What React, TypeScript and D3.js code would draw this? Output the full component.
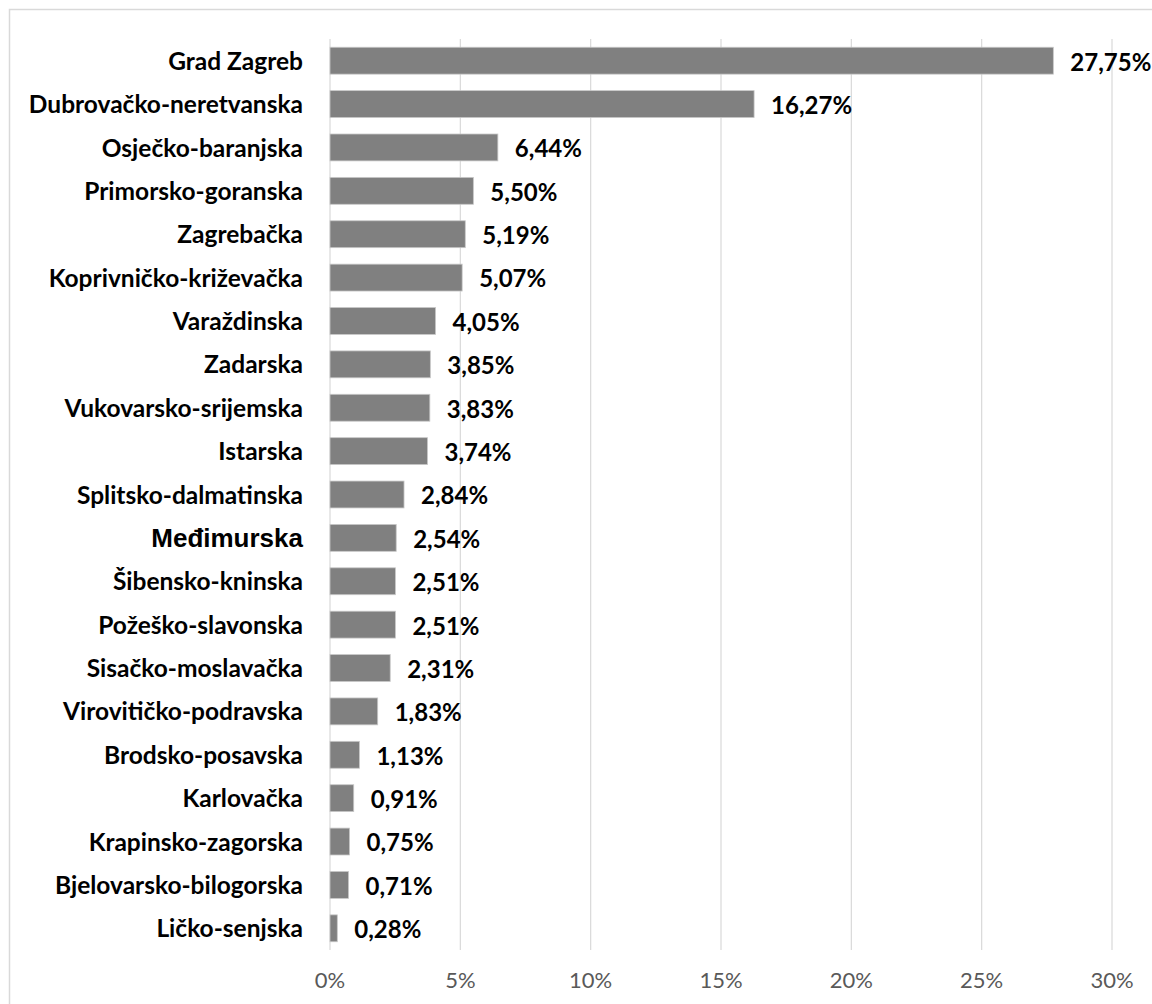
import React from "react";
import * as d3 from "d3";

const categories = [
  "Grad Zagreb",
  "Dubrovačko-neretvanska",
  "Osječko-baranjska",
  "Primorsko-goranska",
  "Zagrebačka",
  "Koprivničko-križevačka",
  "Varaždinska",
  "Zadarska",
  "Vukovarsko-srijemska",
  "Istarska",
  "Splitsko-dalmatinska",
  "Međimurska",
  "Šibensko-kninska",
  "Požeško-slavonska",
  "Sisačko-moslavačka",
  "Virovitičko-podravska",
  "Brodsko-posavska",
  "Karlovačka",
  "Krapinsko-zagorska",
  "Bjelovarsko-bilogorska",
  "Ličko-senjska",
];

const values = [
  27.75, 16.27, 6.44, 5.5, 5.19, 5.07, 4.05, 3.85, 3.83, 3.74, 2.84, 2.54, 2.51,
  2.51, 2.31, 1.83, 1.13, 0.91, 0.75, 0.71, 0.28,
];

const ticks = [0, 5, 10, 15, 20, 25, 30];

const W = 1152;
const H = 1004;
const left = 330;
const right = 1112;
const top = 39;
const bottom = 950;

const fmt = (v: number) => v.toFixed(2).replace(".", ",") + "%";
const labelFont = "Lato, 'Open Sans', sans-serif";

export default function App() {
  const x = d3.scaleLinear().domain([0, 30]).range([left, right]);
  const y = d3
    .scaleBand<string>()
    .domain(categories)
    .range([top, bottom])
    .paddingInner(0.38)
    .paddingOuter(0.19);

  return (
    <svg
      width={W}
      height={H}
      style={{ position: "absolute", left: 0, top: 0, display: "block" }}
    >
      <rect x={0} y={0} width={W} height={H} fill="#ffffff" />
      <rect
        x={9.5}
        y={9.5}
        width={W + 20}
        height={H + 20}
        fill="none"
        stroke="#d9d9d9"
        strokeWidth={1.5}
      />
      {ticks.map((t) => (
        <line
          key={"g" + t}
          x1={x(t)}
          x2={x(t)}
          y1={top}
          y2={bottom}
          stroke="#d9d9d9"
          strokeWidth={1.2}
        />
      ))}
      {categories.map((c, i) => {
        const yy = y(c)!;
        const bw = y.bandwidth();
        const med = c === "Međimurska";
        return (
          <g key={c}>
            <rect
              x={x(0)}
              y={yy}
              width={x(values[i]) - x(0)}
              height={bw}
              fill="#808080"
              stroke="#c8c8c8"
              strokeWidth={0.8}
            />
            <text
              x={303}
              y={yy + bw / 2 + 0.5}
              dy="0.35em"
              textAnchor="end"
              fontFamily={med ? "'Liberation Sans', Arial, sans-serif" : labelFont}
              fontSize={med ? 26 : 24.5}
              fontWeight="bold"
              fill="#000"
            >
              {c}
            </text>
            <text
              x={x(values[i]) + 17}
              y={yy + bw / 2 + 1.5}
              dy="0.35em"
              fontFamily={labelFont}
              fontSize={24}
              fontWeight="bold"
              fill="#000"
            >
              {fmt(values[i])}
            </text>
          </g>
        );
      })}
      {ticks.map((t) => (
        <text
          key={"t" + t}
          x={x(t)}
          y={988}
          textAnchor="middle"
          fontFamily={labelFont}
          fontSize={22}
          fill="#595959"
        >
          {t + "%"}
        </text>
      ))}
    </svg>
  );
}
